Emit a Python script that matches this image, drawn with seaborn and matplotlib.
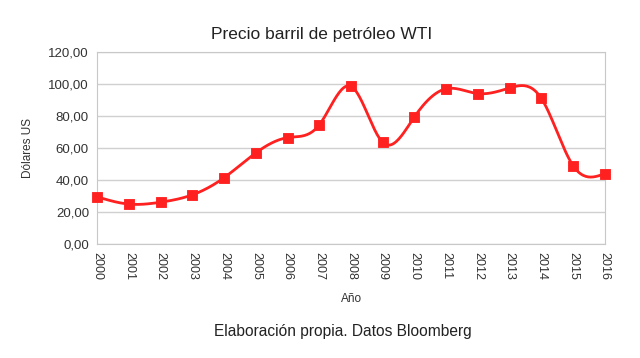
import numpy as np
import matplotlib
matplotlib.use("Agg")
import matplotlib.pyplot as plt
import seaborn as sns
import pandas as pd

# Data
years = [2000, 2001, 2002, 2003, 2004, 2005, 2006, 2007, 2008,
         2009, 2010, 2011, 2012, 2013, 2014, 2015, 2016]
precio = [29.5, 25.0, 26.2, 30.8, 41.5, 57.0, 66.5, 74.5, 98.5,
          63.5, 79.5, 97.0, 94.0, 97.5, 91.0, 49.0, 44.0]
y_ticks = [0, 20, 40, 60, 80, 100, 120]

df = pd.DataFrame({"year": years, "precio": precio})


def natural_spline(x, y, n=400):
    # natural cubic spline, just for drawing the smooth line
    x = np.asarray(x, float)
    y = np.asarray(y, float)
    k = len(x)
    h = np.diff(x)
    A = np.zeros((k, k))
    b = np.zeros(k)
    A[0, 0] = A[-1, -1] = 1
    for i in range(1, k - 1):
        A[i, i - 1] = h[i - 1]
        A[i, i] = 2 * (h[i - 1] + h[i])
        A[i, i + 1] = h[i]
        b[i] = 6 * ((y[i + 1] - y[i]) / h[i] - (y[i] - y[i - 1]) / h[i - 1])
    M = np.linalg.solve(A, b)
    xs = np.linspace(x[0], x[-1], n)
    idx = np.clip(np.searchsorted(x, xs) - 1, 0, k - 2)
    x0, x1 = x[idx], x[idx + 1]
    hh = x1 - x0
    ys = (M[idx] * (x1 - xs) ** 3 / (6 * hh) + M[idx + 1] * (xs - x0) ** 3 / (6 * hh)
          + (y[idx] / hh - M[idx] * hh / 6) * (x1 - xs)
          + (y[idx + 1] / hh - M[idx + 1] * hh / 6) * (xs - x0))
    return xs, ys


sns.set_style("white")
plt.rcParams["font.family"] = ["Liberation Sans", "DejaVu Sans"]

fig = plt.figure(figsize=(6.4, 3.58), dpi=100)
ax = fig.add_axes([0.152, 0.318, 0.793, 0.537])

xs, ys = natural_spline(df["year"], df["precio"])
smooth = pd.DataFrame({"year": xs, "precio": ys})
sns.lineplot(data=smooth, x="year", y="precio", color="#ff2020", lw=2, ax=ax, zorder=3)
pts = sns.scatterplot(data=df, x="year", y="precio", marker="s", s=60, color="#ff2020",
                      edgecolor="#ff2020", ax=ax, zorder=4)
for c in ax.collections:
    c.set_clip_on(False)

ax.set_xlim(2000, 2016)
ax.set_ylim(0, 120)
ax.set_xticks(years)
ax.set_xticklabels([str(y) for y in years], rotation=270, fontsize=9, color="#333333")
ax.set_yticks(y_ticks)
ax.set_yticklabels([f"{v:.2f}".replace(".", ",") for v in y_ticks], fontsize=9.5, color="#333333")
ax.grid(axis="y", color="#d0d0d0", lw=1)
for s in ax.spines.values():
    s.set_color("#c8c8c8")
ax.tick_params(axis="both", length=4, color="#c8c8c8", pad=2)

fig.text(0.503, 0.905, "Precio barril de petróleo WTI", ha="center", va="center",
         fontsize=12.5, color="#222222")
ax.set_xlabel("Año", fontsize=8.5, color="#333333", labelpad=9)
ax.set_ylabel("Dólares US", fontsize=8.5, color="#333333", labelpad=10)
fig.text(0.536, 0.073, "Elaboración propia. Datos Bloomberg", ha="center", va="center",
         fontsize=11.2, color="#222222")

fig.savefig("out.png", dpi=100)
